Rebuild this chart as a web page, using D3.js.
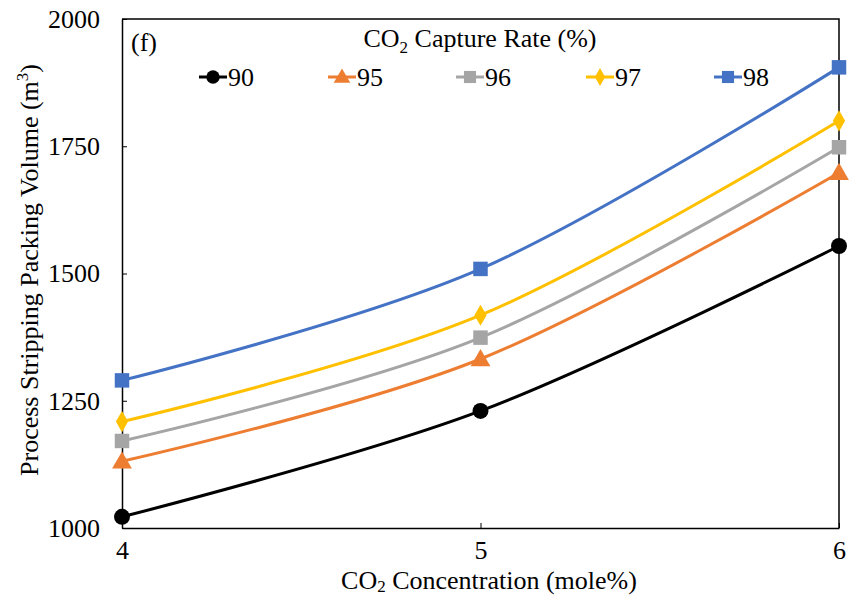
<!DOCTYPE html>
<html>
<head>
<meta charset="utf-8">
<script src="https://cdn.jsdelivr.net/npm/d3@7"></script>
<style>
  html, body { margin: 0; padding: 0; background: #fff; }
  svg { display: block; }
  svg text { font-family: "Liberation Serif", "Times New Roman", serif; fill: #000; }
</style>
</head>
<body>
<svg id="chart" width="853" height="597"></svg>
<script>
// CO2 concentration in the feed (mole%)
const concentrations = [4, 5, 6];
// Capture-rate series (%), one packing-volume array each (m³)
const captureRates = ["90", "95", "96", "97", "98"];
const volume90 = [1022, 1230, 1554];
const volume95 = [1131, 1332, 1698];
const volume96 = [1171, 1374, 1748];
const volume97 = [1209, 1418, 1800];
const volume98 = [1290, 1509, 1905];
const yTicks = [1000, 1250, 1500, 1750, 2000];
const xTicks = [4, 5, 6];

const seriesValues = [volume90, volume95, volume96, volume97, volume98];
const colors = ["#000000", "#ED7D31", "#A5A5A5", "#FFC000", "#4472C4"];
const shapes = ["circle", "triangle", "square", "diamond", "square"];

const FS = 26, SUB = 17;
const svg = d3.select("#chart");
const margin = { left: 122, right: 14, top: 19, bottom: 69 };
const W = 853, H = 597;

const x = d3.scaleLinear().domain([4, 6]).range([margin.left, W - margin.right]);
const y = d3.scaleLinear().domain([1000, 2000]).range([H - margin.bottom, margin.top]);

// Axes with short inward ticks
const xAxis = svg.append("g")
  .attr("transform", `translate(0,${y(1000)})`)
  .call(d3.axisBottom(x).tickValues(xTicks).tickSizeInner(-5).tickSizeOuter(0).tickPadding(15).tickFormat(d3.format("d")));
const yAxis = svg.append("g")
  .attr("transform", `translate(${x(4)},0)`)
  .call(d3.axisLeft(y).tickValues(yTicks).tickSizeInner(-5).tickSizeOuter(0).tickPadding(22).tickFormat(d3.format("d")));
[xAxis, yAxis].forEach(g => {
  g.attr("font-family", null).attr("font-size", FS);
  g.selectAll("path.domain").attr("stroke", "#000").attr("stroke-width", 1.5);
  g.selectAll(".tick line").attr("stroke", "#000").attr("stroke-width", 1);
  g.selectAll(".tick text").attr("font-size", FS);
});
xAxis.selectAll(".tick text").attr("dy", "0.62em");

// Plot frame (top and right edges)
svg.append("path")
  .attr("d", `M${x(4)},${y(2000)}H${x(6)}V${y(1000)}`)
  .attr("fill", "none").attr("stroke", "#000").attr("stroke-width", 1.5);

function markerPath(shape, size) {
  const sym = { circle: d3.symbolCircle, triangle: d3.symbolTriangle, square: d3.symbolSquare, diamond: d3.symbolDiamond }[shape];
  return d3.symbol().type(sym).size(size)();
}
const markerSize = { circle: 200, triangle: 170, square: 210, diamond: 130 };

const line = d3.line().x(d => x(d[0])).y(d => y(d[1])).curve(d3.curveCardinal.tension(0));

seriesValues.forEach((vals, i) => {
  const pts = concentrations.map((c, j) => [c, vals[j]]);
  svg.append("path")
    .datum(pts)
    .attr("d", line)
    .attr("fill", "none")
    .attr("stroke", colors[i])
    .attr("stroke-width", 3);
  svg.selectAll(null)
    .data(pts)
    .enter().append("path")
    .attr("transform", d => `translate(${x(d[0])},${y(d[1]) + (shapes[i] === "triangle" ? 1.5 : 0)})`)
    .attr("d", markerPath(shapes[i], markerSize[shapes[i]]))
    .attr("fill", colors[i]);
});

// Panel tag
svg.append("text").attr("x", 131).attr("y", 51)
  .attr("font-size", FS).text("(f)");

// Legend
const legTitle = svg.append("text").attr("x", 480).attr("y", 47)
  .attr("text-anchor", "middle").attr("font-size", FS);
legTitle.append("tspan").text("CO");
legTitle.append("tspan").attr("font-size", SUB).attr("dy", 6).text("2");
legTitle.append("tspan").attr("dy", -6).text(" Capture Rate (%)");

const legendX = [213, 342, 470, 600, 728];
captureRates.forEach((r, i) => {
  const g = svg.append("g").attr("transform", `translate(${legendX[i]},77)`);
  g.append("line").attr("x1", -14).attr("x2", 14).attr("stroke", colors[i]).attr("stroke-width", 3);
  g.append("path")
    .attr("transform", shapes[i] === "triangle" ? "translate(0,1)" : null)
    .attr("d", markerPath(shapes[i], markerSize[shapes[i]] * 0.7)).attr("fill", colors[i]);
  g.append("text").attr("x", 15).attr("y", 9).attr("font-size", FS).text(r);
});

// Axis titles
const xTitle = svg.append("text").attr("x", 489).attr("y", 589)
  .attr("text-anchor", "middle").attr("font-size", FS);
xTitle.append("tspan").text("CO");
xTitle.append("tspan").attr("font-size", SUB).attr("dy", 3).text("2");
xTitle.append("tspan").attr("dy", -3).text(" Concentration (mole%)");

const yTitle = svg.append("text")
  .attr("transform", `translate(38,270) rotate(-90)`)
  .attr("text-anchor", "middle").attr("font-size", FS);
yTitle.append("tspan").text("Process Stripping Packing Volume (m");
yTitle.append("tspan").attr("font-size", SUB).attr("dy", -10).text("3");
yTitle.append("tspan").attr("dy", 10).text(")");
</script>
</body>
</html>
